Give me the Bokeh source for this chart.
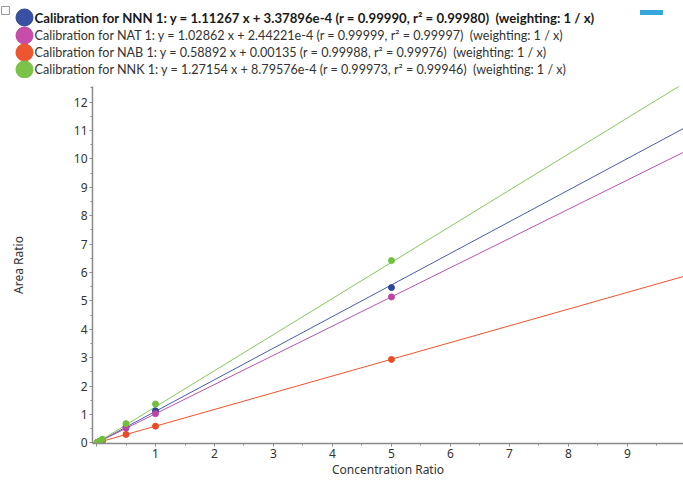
from bokeh.plotting import figure
from bokeh.layouts import column
from bokeh.models import Range1d, SingleIntervalTicker
from bokeh.core.properties import value
from bokeh.embed import file_html
from bokeh.resources import INLINE

# ---- data ----
names = ["NNN", "NAT", "NAB", "NNK"]
slopes = [1.11267, 1.02862, 0.58892, 1.27154]
intercepts = [3.37896e-4, 2.44221e-4, 0.00135, 8.79576e-4]
r_vals = ["0.99990", "0.99999", "0.99988", "0.99973"]
r2_vals = ["0.99980", "0.99997", "0.99976", "0.99946"]
slope_txt = ["1.11267", "1.02862", "0.58892", "1.27154"]
icpt_txt = ["3.37896e-4", "2.44221e-4", "0.00135", "8.79576e-4"]
conc = [0.01, 0.05, 0.1, 0.5, 1.0, 5.0]
area_nnn = [0.011, 0.055, 0.11, 0.56, 1.13, 5.47]
area_nat = [0.0105, 0.052, 0.103, 0.52, 1.03, 5.14]
area_nab = [0.006, 0.030, 0.059, 0.30, 0.59, 2.94]
area_nnk = [0.013, 0.065, 0.13, 0.68, 1.37, 6.42]
areas = [area_nnn, area_nat, area_nab, area_nnk]

line_colors = ["#4a5cb0", "#c24fae", "#f0532c", "#86c95a"]
pt_colors = ["#2d4699", "#bf43a6", "#ee4a22", "#72bf3c"]
leg_colors = ["#3a50a2", "#c64ea8", "#ee5632", "#7cc248"]

FONT = "Noto Sans"
LEG_FONT = "Lato"
X0, X1 = -0.068, 9.95
Y0, Y1 = -0.02, 12.55

# ---- legend strip ----
leg = figure(width=683, height=78, output_backend="svg", toolbar_location=None,
             x_range=Range1d(0, 683), y_range=Range1d(78, 0),
             min_border=0, outline_line_color=None)
if hasattr(leg, "frame_align"):
    leg.frame_align = False
leg.axis.visible = False
leg.grid.visible = False

sp = "\u00a0 "
labels = [f"Calibration for {n} 1: y = {s} x + {c} (r = {r}, r\u00b2 = {r2}){sp}(weighting: 1 / x)"
          for n, s, c, r, r2 in zip(names, slope_txt, icpt_txt, r_vals, r2_vals)]
rows_y = [17, 35, 52, 69]
leg.scatter(x=[24] * 4, y=rows_y, size=17, marker="circle", fill_color=leg_colors,
            line_color=pt_colors, line_width=1)
leg.text(x=[34], y=[rows_y[0]], text=[labels[0]], text_font=value(LEG_FONT),
         text_font_size="13.2px", text_font_style="bold", text_baseline="middle",
         text_color="#1a1a1a")
leg.text(x=[34] * 3, y=rows_y[1:], text=labels[1:], text_font=value(LEG_FONT),
         text_font_size="12.6px", text_baseline="middle", text_color="#333333")
# collapse box and small button
leg.rect(x=[5], y=[10], width=8, height=8, fill_color="white", line_color="#999999")
leg.rect(x=[651], y=[12], width=23, height=5, fill_color="#35a7dc", line_color=None)

# ---- main plot ----
p = figure(width=683, height=403, output_backend="svg", toolbar_location=None,
           x_range=Range1d(X0, X1), y_range=Range1d(Y0, Y1),
           min_border_left=92, min_border_right=0, min_border_top=8, min_border_bottom=38,
           outline_line_color=None)
p.grid.visible = False

for i in range(4):
    xs = [0.0, X1]
    ys = [slopes[i] * x + intercepts[i] for x in xs]
    p.line(xs, ys, line_color=line_colors[i], line_width=1)
for i in range(4):
    p.scatter(conc, areas[i], marker="circle", size=6, fill_color=pt_colors[i],
              line_color=pt_colors[i])

p.xaxis.ticker = SingleIntervalTicker(interval=1, num_minor_ticks=2)
p.yaxis.ticker = SingleIntervalTicker(interval=1, num_minor_ticks=2)
p.xaxis.major_label_overrides = {0: ""}
for ax in (p.xaxis, p.yaxis):
    ax.axis_line_color = "#8a8a8a"
    ax.axis_line_width = 1.5
    ax.major_tick_line_color = "#8a8a8a"
    ax.minor_tick_line_color = "#8a8a8a"
    ax.major_tick_in = 0
    ax.major_tick_out = 3
    ax.minor_tick_in = 0
    ax.minor_tick_out = 2
    ax.major_label_text_font = FONT
    ax.major_label_text_font_size = "12px"
    ax.major_label_text_color = "#333333"
    ax.axis_label_text_font = FONT
    ax.axis_label_text_font_size = "12px"
    ax.axis_label_text_font_style = "normal"
    ax.axis_label_text_color = "#333333"
    ax.major_label_standoff = 2
p.xaxis.axis_label = "Concentration Ratio"
p.yaxis.axis_label = "Area Ratio"
p.xaxis.axis_label_standoff = 0
p.yaxis.axis_label_standoff = 44

layout = column(leg, p, spacing=0)
open("out.html", "w").write(file_html(layout, INLINE))
